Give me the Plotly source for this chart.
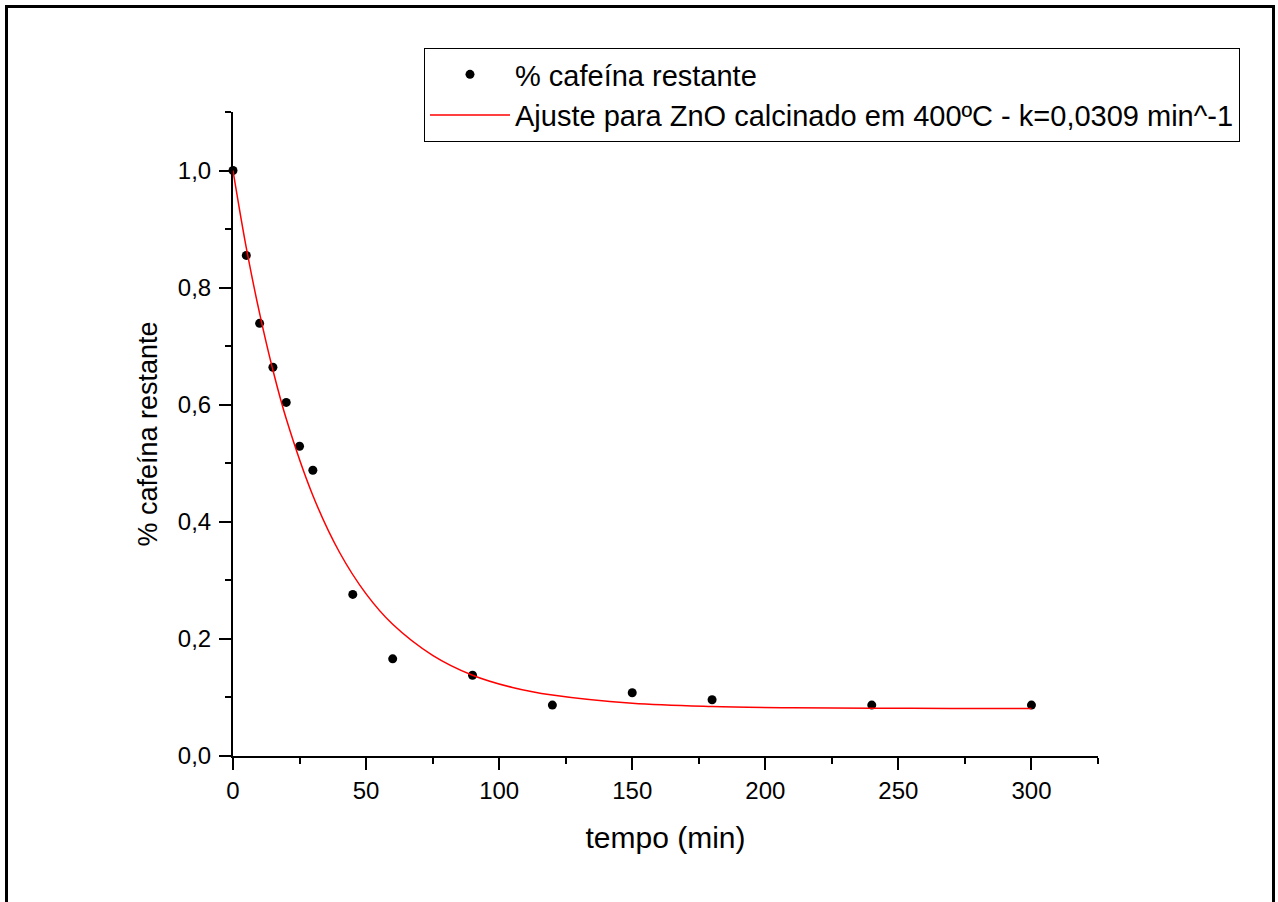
import plotly.graph_objects as go

tempo = [0, 5, 10, 15, 20, 25, 30, 45, 60, 90, 120, 150, 180, 240, 300]
cafeina = [1.000, 0.855, 0.739, 0.664, 0.604, 0.529, 0.488, 0.276, 0.166, 0.138,
           0.087, 0.108, 0.096, 0.087, 0.087]

# Fitted curve
fit_x = [0, 5, 10, 15, 20, 30, 40, 50, 60, 75, 90, 105, 120, 150, 180, 210, 240, 270, 300]
fit_y = [1.000, 0.868, 0.756, 0.659, 0.576, 0.445, 0.348, 0.277, 0.225, 0.172, 0.138,
         0.117, 0.104, 0.090, 0.0845, 0.0824, 0.0816, 0.0812, 0.081]

x_ticks = [0, 50, 100, 150, 200, 250, 300]
y_ticks = [0.0, 0.2, 0.4, 0.6, 0.8, 1.0]
y_labels = ["0,0", "0,2", "0,4", "0,6", "0,8", "1,0"]

FONT = "Liberation Sans, Arial, sans-serif"

fig = go.Figure()
fig.add_trace(go.Scatter(
    x=tempo, y=cafeina, mode="markers", name="% cafeína restante",
    marker=dict(color="black", size=9), cliponaxis=False))
fig.add_trace(go.Scatter(
    x=fit_x, y=fit_y, mode="lines", line_shape="spline",
    name="Ajuste para ZnO calcinado em 400ºC - k=0,0309 min^-1",
    line=dict(color="red", width=1.5)))

axis_common = dict(
    showline=True, linecolor="black", linewidth=2, mirror=False,
    showgrid=False, zeroline=False, ticks="outside", ticklen=12, tickwidth=2,
    tickcolor="black", tickfont=dict(family=FONT, size=24, color="black"),
)

fig.update_layout(
    width=1278, height=902,
    margin=dict(l=233, r=180, t=112, b=146, autoexpand=False),
    paper_bgcolor="white", plot_bgcolor="white",
    font=dict(family=FONT, color="black"),
    showlegend=True,
    legend=dict(x=0.2208, y=(756 - 48) / 644, xanchor="left", yanchor="top",
                bordercolor="black", borderwidth=1, bgcolor="white",
                font=dict(family=FONT, size=29, color="black"),
                itemwidth=80, tracegroupgap=0),
    xaxis=dict(range=[0, 325], tickvals=x_ticks,
               minor=dict(dtick=25, tick0=0, ticks="outside", ticklen=6, tickwidth=2, tickcolor="black"),
               title=dict(text="tempo (min)", font=dict(family=FONT, size=30), standoff=24),
               ticklabelstandoff=0, **axis_common),
    yaxis=dict(range=[0, 1.1], tickvals=y_ticks, ticktext=y_labels,
               minor=dict(dtick=0.1, tick0=0, ticks="outside", ticklen=6, tickwidth=2, tickcolor="black"),
               title=dict(text="% cafeína restante", font=dict(family=FONT, size=27), standoff=12),
               ticklabelstandoff=3, **axis_common),
    shapes=[dict(type="rect", xref="paper", yref="paper",
                 x0=(6.5 - 233) / 865, x1=(1273.5 - 233) / 865,
                 y0=(756 - 910) / 644, y1=(756 - 6.5) / 644,
                 line=dict(color="black", width=3), layer="below")],
)

fig.write_html("out.html")
